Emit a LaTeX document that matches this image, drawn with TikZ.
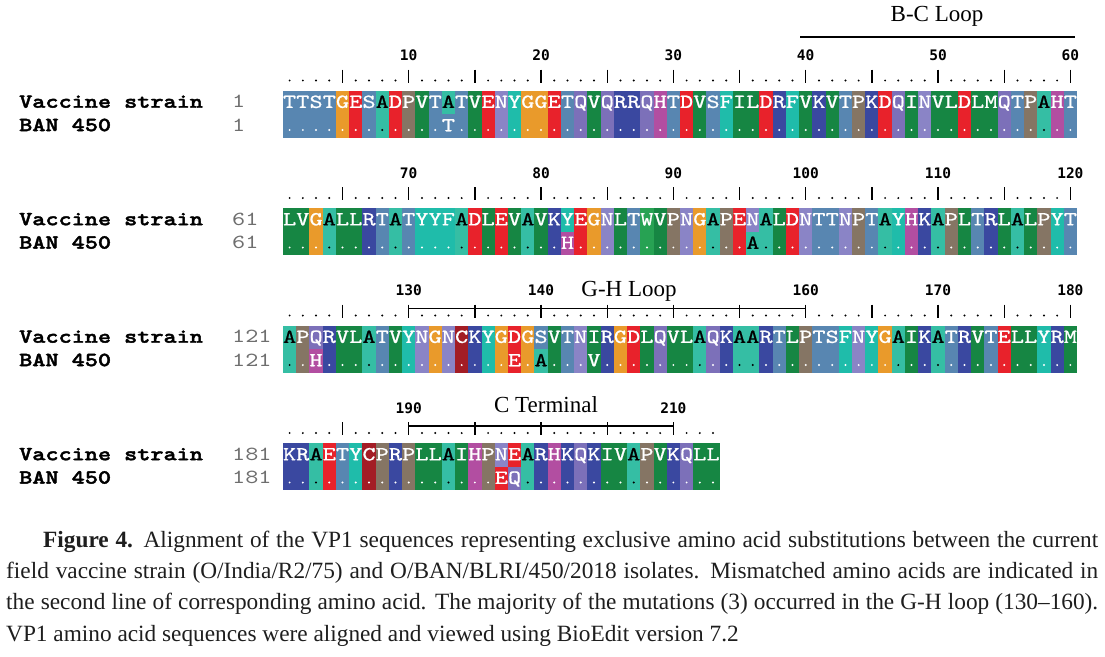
\documentclass[tikz,border=0pt]{standalone}
\usepackage{fontspec}
\setmainfont{Liberation Serif}
\newfontfamily\seqfont{lmmono10-regular.otf}[FakeStretch=1.25, FakeBold=0.8]
\newfontfamily\labfont{lmmonolt10-bold.otf}[FakeStretch=1.25, FakeBold=2]
\newfontfamily\numfont{lmmono10-regular.otf}[FakeStretch=1.25]
\newfontfamily\rulfont{DejaVu Sans Mono}

\definecolor{aaA}{HTML}{35BEA4}
\definecolor{aaC}{HTML}{A31D25}
\definecolor{aaD}{HTML}{E8222B}
\definecolor{aaE}{HTML}{E8222B}
\definecolor{aaF}{HTML}{1FBCAA}
\definecolor{aaG}{HTML}{E99A2B}
\definecolor{aaH}{HTML}{B24EA1}
\definecolor{aaI}{HTML}{168643}
\definecolor{aaK}{HTML}{3A48A0}
\definecolor{aaL}{HTML}{168643}
\definecolor{aaM}{HTML}{168643}
\definecolor{aaN}{HTML}{8A84C6}
\definecolor{aaP}{HTML}{857564}
\definecolor{aaQ}{HTML}{7C70B9}
\definecolor{aaR}{HTML}{3A48A0}
\definecolor{aaS}{HTML}{5886B1}
\definecolor{aaT}{HTML}{5886B1}
\definecolor{aaV}{HTML}{168643}
\definecolor{aaW}{HTML}{27A253}
\definecolor{aaY}{HTML}{1FBCAA}
\definecolor{capgray}{HTML}{1E1E1E}
\definecolor{numgray}{HTML}{6E6E6E}

\tikzset{
  res/.style={font=\seqfont\fontsize{20}{22}\selectfont, inner sep=0pt, anchor=base},
  lab/.style={font=\labfont\fontsize{20}{22}\selectfont, inner sep=0pt, anchor=base west, text=black},
  seqnum/.style={font=\numfont\fontsize{20}{22}\selectfont, text=numgray, inner sep=0pt, anchor=base west},
  rnum/.style={font=\rulfont\bfseries\fontsize{14.5}{16}\selectfont, inner sep=0pt, anchor=base},
  looplab/.style={font=\fontsize{23}{26}\selectfont, inner sep=0pt, anchor=base},
  rtick/.style={line width=1.4pt},
  loopline/.style={line width=1.3pt},
}

% one residue column: #1 top, #2 index in block, #3 letter, #4 start number
\newcommand\AlnCell[4]{%
  \pgfmathsetmacro\xa{283+(#2-1)*13.233}%
  \pgfmathsetmacro\xb{\xa+13.233}%
  \pgfmathsetmacro\xc{\xa+6.6165}%
  \pgfmathtruncatemacro\gn{#4+#2-1}%
  \fill[aa#3] (\xa,#1) rectangle (\xb,#1+47);
  \ifx A#3\def\tc{black}\else\def\tc{white}\fi
  \node[res, text=\tc] (v\gn) at (\xc,#1+17.4) {#3};
  \fill[\tc] (\xc,#1+39.5) circle[radius=1.1pt];
}

\ExplSyntaxOn
\int_new:N \l_aln_i_int
\NewDocumentCommand \AlnSeq { m m m }
 {
  \int_zero:N \l_aln_i_int
  \tl_map_inline:nn {#2}
   {
    \int_incr:N \l_aln_i_int
    \AlnCell {#1} { \int_use:N \l_aln_i_int } {##1} {#3}
   }
 }
\ExplSyntaxOff

% mutation in BAN row: #1 top, #2 index, #3 letter, #4 start
\newcommand\Mut[4]{%
  \pgfmathsetmacro\xa{283+(#2-1)*13.233}%
  \pgfmathsetmacro\xb{\xa+13.233}%
  \pgfmathsetmacro\xc{\xa+6.6165}%
  \pgfmathtruncatemacro\gn{#4+#2-1}%
  \fill[aa#3] (\xa,#1+23.5) rectangle (\xb,#1+47);
  \ifx A#3\def\tc{black}\else\def\tc{white}\fi
  \node[res, text=\tc] (m\gn) at (\xc,#1+40.8) {#3};
}

% ruler: #1 top, #2 start, #3 length
\newcommand\Ruler[3]{%
  \foreach \i in {1,...,#3}{%
    \pgfmathtruncatemacro\gn{#2+\i-1}%
    \pgfmathsetmacro\xc{283+(\i-0.5)*13.233}%
    \pgfmathtruncatemacro\md{mod(\gn,5)}%
    \ifnum\md=0
      \draw[rtick] (\xc,#1-21) -- (\xc,#1-8);
    \else
      \fill (\xc,#1-10) circle[radius=1.1pt];
    \fi
  }%
}

% ruler numbers: #1 top, #2 start, #3 list
\newcommand\RulNums[3]{%
  \foreach \n in {#3}{%
    \pgfmathsetmacro\xc{283+(\n-#2+0.5)*13.233}%
    \node[rnum] (r\n) at (\xc,#1-29.7) {\n};
  }%
}

\begin{document}
\begin{tikzpicture}[x=1pt,y=-1pt]
\useasboundingbox (0,0) rectangle (1105,656);
\fill[white] (0,0) rectangle (1105,656);

% ---------- block 1 ----------
\AlnSeq{90.5}{TTSTGESADPVTATVENYGGETQVQRRQHTDVSFILDRFVKVTPKDQINVLDLMQTPAHT}{1}
\Mut{90.5}{13}{T}{1}
\Ruler{90.5}{1}{60}
\RulNums{90.5}{1}{10,20,30,40,50,60}
\node[lab] (vs1) at (19,90.5+17.2) {Vaccine strain};
\node[lab] (ban1) at (19,90.5+40.6) {BAN 450};
\node[seqnum] (s1) at (232,90.5+17.2) {1};
\node[seqnum] (b1) at (232,90.5+40.6) {1};
\node[looplab] (bc) at (937,21.5) {B-C Loop};
\coordinate (bcA) at (800,37);
\coordinate (bcB) at (1075,37);
\draw[loopline] (bcA) -- (bcB);

% ---------- block 2 ----------
\AlnSeq{208}{LVGALLRTATYYFADLEVAVKYEGNLTWVPNGAPENALDNTTNPTAYHKAPLTRLALPYT}{61}
\Mut{208}{22}{H}{61}
\Mut{208}{36}{A}{61}
\Ruler{208}{61}{60}
\RulNums{208}{61}{70,80,90,100,110,120}
\node[lab] (vs2) at (19,208+17.2) {Vaccine strain};
\node[lab] (ban2) at (19,208+40.6) {BAN 450};
\node[seqnum] (s2) at (232,208+17.2) {61};
\node[seqnum] (b2) at (232,208+40.6) {61};

% ---------- block 3 ----------
\AlnSeq{325.5}{APQRVLATVYNGNCKYGDGSVTNIRGDLQVLAQKAARTLPTSFNYGAIKATRVTELLYRM}{121}
\Mut{325.5}{3}{H}{121}
\Mut{325.5}{18}{E}{121}
\Mut{325.5}{20}{A}{121}
\Mut{325.5}{24}{V}{121}
\Ruler{325.5}{121}{60}
\RulNums{325.5}{121}{130,140,160,170,180}
\coordinate (ghA) at (408.7,325.5-17);
\coordinate (ghB) at (805.6,325.5-17);
\draw[loopline] (ghA) -- (ghB);
\node[looplab] (gh) at (629,325.5-29) {G-H Loop};
\node[lab] (vs3) at (19,325.5+17.2) {Vaccine strain};
\node[lab] (ban3) at (19,325.5+40.6) {BAN 450};
\node[seqnum] (s3) at (232,325.5+17.2) {121};
\node[seqnum] (b3) at (232,325.5+40.6) {121};

% ---------- block 4 ----------
\AlnSeq{443}{KRAETYCPRPLLAIHPNEARHKQKIVAPVKQLL}{181}
\Mut{443}{17}{E}{181}
\Mut{443}{18}{Q}{181}
\Ruler{443}{181}{33}
\RulNums{443}{181}{190,210}
\coordinate (ctA) at (408.7,443-17);
\coordinate (ctB) at (673.3,443-17);
\draw[loopline] (ctA) -- (ctB);
\node[looplab] (ct) at (546,412.5) {C Terminal};
\node[lab] (vs4) at (19,443+17.2) {Vaccine strain};
\node[lab] (ban4) at (19,443+40.6) {BAN 450};
\node[seqnum] (s4) at (232,443+17.2) {181};
\node[seqnum] (b4) at (232,443+40.6) {181};

% ---------- caption ----------
\node[anchor=base west, inner sep=0pt, text=capgray, font=\fontsize{23.3}{31.4}\selectfont] (caption) at (6,547)
{\parbox[t]{1092pt}{%
\hbox to 1092pt{\hspace*{37pt}\textbf{Figure 4.} Alignment of the VP1 sequences representing exclusive amino acid substitutions between the current}%
\hbox to 1092pt{field vaccine strain (O/India/R2/75) and O/BAN/BLRI/450/2018 isolates. Mismatched amino acids are indicated in}%
\hbox to 1092pt{the second line of corresponding amino acid. The majority of the mutations (3) occurred in the G-H loop (130–160).}%
\hbox{VP1 amino acid sequences were aligned and viewed using BioEdit version 7.2}}};
\end{tikzpicture}
\end{document}
